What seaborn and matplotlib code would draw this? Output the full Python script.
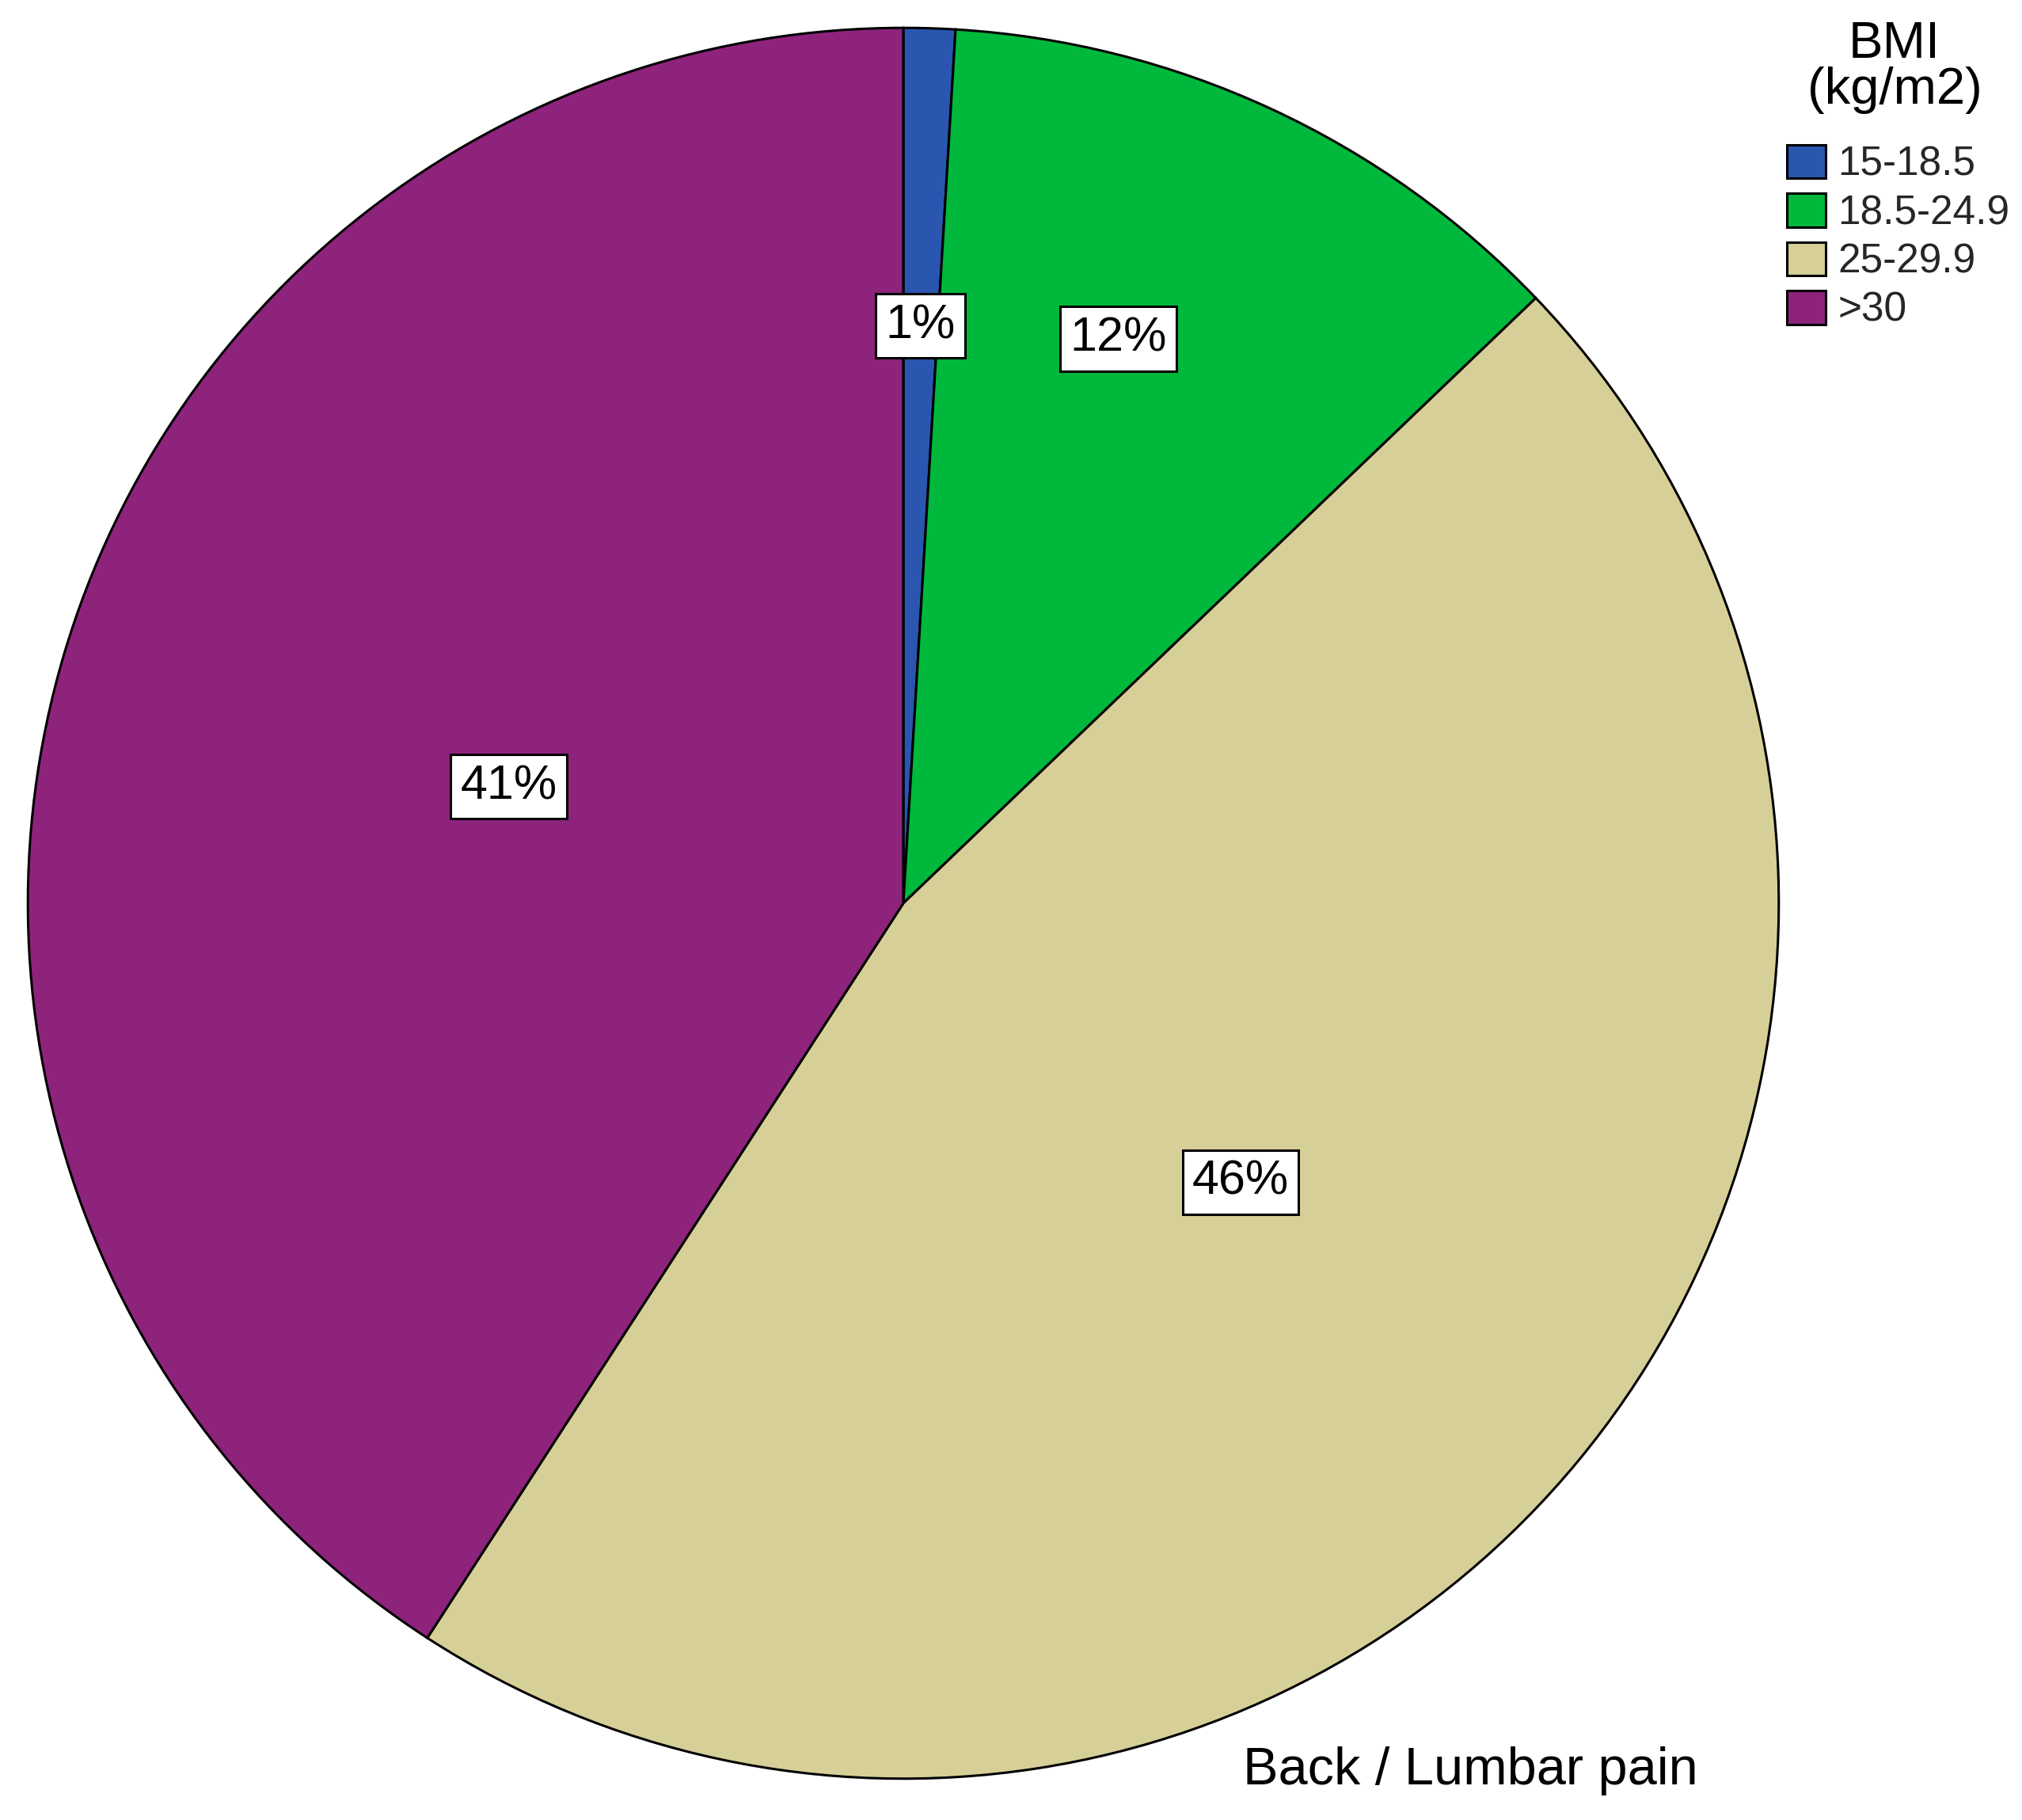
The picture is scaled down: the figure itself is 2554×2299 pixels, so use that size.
# BMI distribution - Back / Lumbar pain

import matplotlib
matplotlib.use("Agg")
import matplotlib.pyplot as plt
import seaborn as sns
import numpy as np

sns.set_theme(style="white")
plt.rcParams["font.family"] = ["Liberation Sans", "DejaVu Sans"]

# --- data ---
bmi_groups = ["15-18.5", "18.5-24.9", "25-29.9", ">30"]
share = [0.95, 11.9, 46.3, 40.85]
pct_labels = ["1%", "12%", "46%", "41%"]
colors = ["#2A56B0", "#00B83B", "#D6CF97", "#8E237B"]

# label placement: radius and angle shift (deg) from slice middle
label_radius = [0.66, 0.69, 0.50, 0.47]
label_shift = [0, 4, 0, 0]

W, H = 2554, 2299
fig = plt.figure(figsize=(W / 100, H / 100), dpi=100)
fig.patch.set_facecolor("white")

cx, cy, r = 1141, 1141, 1108
ax = fig.add_axes([(cx - r) / W, (H - cy - r) / H, 2 * r / W, 2 * r / H])

wedges, _ = ax.pie(share, colors=colors, startangle=90, counterclock=False,
                   radius=1, wedgeprops=dict(edgecolor="black", linewidth=2.2))
ax.set_xlim(-1.002, 1.002)
ax.set_ylim(-1.002, 1.002)
ax.set_aspect("equal")
ax.axis("off")

# percentage boxes
for w, lab, rr, sh in zip(wedges, pct_labels, label_radius, label_shift):
    ang = np.deg2rad((w.theta1 + w.theta2) / 2 + sh)
    ax.text(rr * np.cos(ang), rr * np.sin(ang), lab, ha="center", va="center",
            fontsize=44, color="black",
            bbox=dict(boxstyle="square,pad=0.2", fc="white", ec="black", lw=2.2))

fig.text(1857 / W, 1 - 2237 / H, "Back / Lumbar pain", ha="center", va="center",
         fontsize=48, color="black")

# legend
fig.text(2393 / W, 1 - 26 / H, "BMI\n(kg/m2)", ha="center", va="top",
         fontsize=47, linespacing=0.95, color="black")
leg = fig.legend(wedges, bmi_groups,
                 loc="upper left", bbox_to_anchor=(2226 / W, 1 - 152 / H),
                 frameon=False, fontsize=37,
                 handlelength=0.95, handleheight=0.9, handletextpad=0.3,
                 labelspacing=0.22, borderpad=0.1)
for p in leg.get_patches():
    p.set_edgecolor("black")
    p.set_linewidth(2.2)

fig.savefig("out.png", dpi=100, facecolor="white")
